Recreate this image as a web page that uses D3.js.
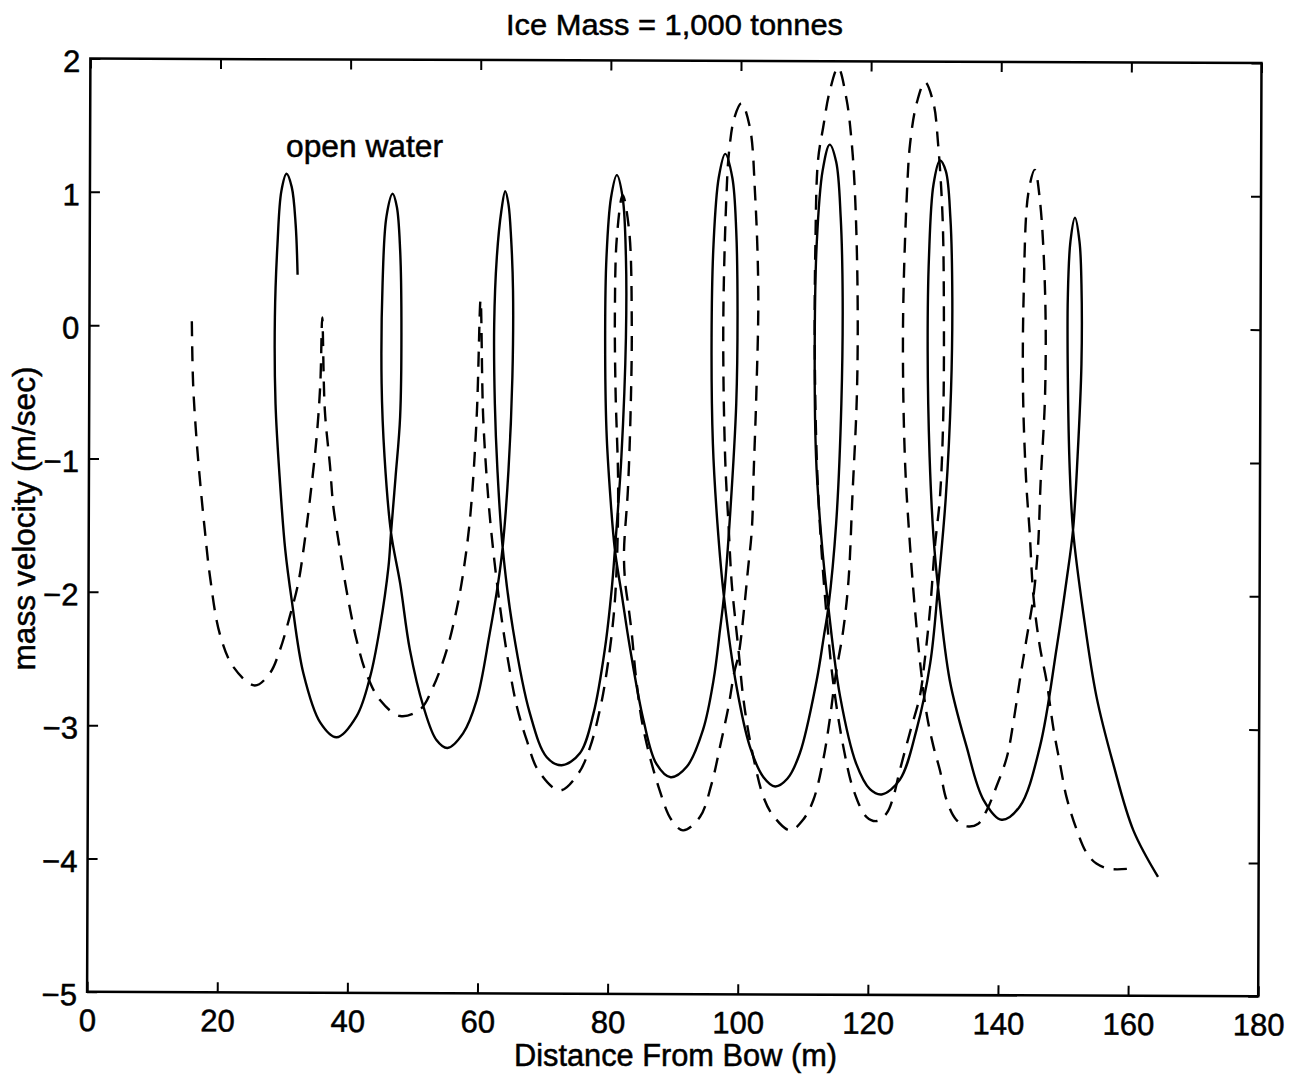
<!DOCTYPE html>
<html>
<head>
<meta charset="utf-8">
<script src="https://cdn.jsdelivr.net/npm/d3@7"></script>
<style>
  body { margin: 0; background: #fff; }
  text { font-family: "Liberation Sans", Arial, Helvetica, sans-serif; fill: #000; stroke: #000; stroke-width: 0.5px; }
</style>
</head>
<body>
<svg id="chart" width="1299" height="1076"></svg>
<script>
const xTicks = [0, 20, 40, 60, 80, 100, 120, 140, 160, 180];
const yTicks = [-5, -4, -3, -2, -1, 0, 1, 2];

// solid trace (the "open water" run): [distance m, velocity m/s]
const openWater = [
  [32.3,0.37],[32.0,0.75],[31.4,1.03],[30.6,1.13],[29.8,1.0],[29.2,0.6],[28.8,0.05],[28.9,-0.6],[29.6,-1.2],[30.4,-1.7],
  [31.4,-2.08],[33.2,-2.63],[35.8,-3.0],[38.3,-3.11],[41.4,-2.95],[43.5,-2.65],[45.0,-2.28],[46.3,-1.83],[46.7,-1.57],
  [47.4,-1.15],[48.1,-0.70],[48.3,0.05],[48.1,0.56],[47.6,0.88],[46.95,0.98],[46.0,0.81],[45.4,0.31],[45.25,-0.45],[45.7,-1.0],[46.7,-1.57],
  [48.1,-1.95],[49.6,-2.45],[51.7,-2.88],[53.7,-3.13],[55.4,-3.19],[57.8,-3.08],[59.9,-2.83],[61.9,-2.33],[63.2,-1.95],[63.9,-1.68],
  [64.8,-1.1],[65.4,-0.4],[65.5,0.25],[65.2,0.65],[64.8,0.9],[64.3,1.0],[63.7,0.85],[63.0,0.5],[62.6,0.0],[62.7,-0.6],[63.1,-1.1],[63.9,-1.68],
  [65.5,-2.3],[68.1,-2.93],[70.7,-3.26],[73.0,-3.32],[75.8,-3.23],[77.9,-2.93],[79.7,-2.43],[80.7,-2.0],[81.2,-1.7],
  [82.2,-1.0],[82.9,-0.1],[82.9,0.5],[82.4,0.95],[81.5,1.12],[80.6,0.95],[79.9,0.5],[79.7,-0.05],[79.9,-0.8],[80.5,-1.3],[81.2,-1.7],
  [82.3,-2.05],[83.5,-2.43],[85.6,-2.98],[87.6,-3.31],[89.8,-3.41],[92.3,-3.33],[94.8,-3.05],[96.4,-2.68],[97.4,-2.3],[98.0,-2.05],
  [99.0,-1.4],[99.9,-0.6],[100.1,0.1],[99.9,0.7],[99.3,1.1],[98.2,1.28],[97.2,1.1],[96.4,0.6],[96.1,-0.1],[96.3,-0.9],[97.0,-1.5],[98.0,-2.05],
  [99.95,-2.73],[102.0,-3.18],[104.1,-3.41],[105.9,-3.48],[107.8,-3.42],[109.7,-3.23],[112.3,-2.68],[113.4,-2.35],[114.1,-2.13],
  [115.3,-1.5],[116.1,-0.6],[116.3,0.2],[116.0,0.8],[115.3,1.22],[114.3,1.35],[113.2,1.15],[112.3,0.6],[112.0,-0.1],[112.2,-1.0],[113.0,-1.6],[114.1,-2.13],
  [115.9,-2.8],[118.4,-3.31],[120.5,-3.5],[122.3,-3.54],[125.1,-3.43],[127.7,-3.05],[129.8,-2.55],[131.0,-1.98],
  [132.2,-1.3],[133.0,-0.5],[133.2,0.2],[132.9,0.8],[132.2,1.15],[131.3,1.23],[130.3,1.05],[129.6,0.5],[129.4,-0.2],[129.7,-1.0],[130.3,-1.6],[131.0,-1.98],
  [132.8,-2.68],[135.4,-3.18],[138.0,-3.58],[140.8,-3.73],[143.6,-3.63],[146.7,-3.18],[149.3,-2.43],[150.8,-1.93],[151.8,-1.55],
  [152.5,-1.0],[153.1,-0.3],[153.1,0.3],[152.8,0.62],[152.1,0.80],[151.4,0.62],[151.0,0.2],[151.0,-0.4],[151.3,-1.1],[151.8,-1.55],
  [153.4,-2.18],[155.4,-2.8],[158.0,-3.31],[161.1,-3.81],[164.9,-4.16]
];

// dashed trace
const dashedRun = [
  [16.0,0.02],[16.2,-0.45],[16.7,-0.85],[17.3,-1.2],[18.0,-1.55],[18.8,-1.9],[20.3,-2.33],[22.4,-2.58],[25.7,-2.72],[28.0,-2.63],
  [29.6,-2.45],[31.1,-2.2],[32.4,-1.95],[33.4,-1.63],[34.2,-1.32],[35.2,-0.87],[35.8,-0.45],[36.1,0.05],
  [36.5,-0.65],[37.3,-1.07],[37.8,-1.37],[38.6,-1.63],[39.4,-1.88],[40.4,-2.15],[41.4,-2.38],[42.9,-2.63],[45.0,-2.83],[48.1,-2.95],
  [51.2,-2.9],[53.2,-2.73],[55.3,-2.45],[56.8,-2.15],[57.8,-1.88],[58.9,-1.45],[59.9,-0.70],[60.5,0.18],
  [60.9,-0.70],[61.7,-1.32],[62.4,-1.68],[63.5,-2.13],[64.8,-2.55],[66.1,-2.88],[67.6,-3.13],[69.4,-3.36],[72.7,-3.51],[75.6,-3.38],
  [77.4,-3.18],[78.9,-2.90],[79.9,-2.63],[81.0,-2.2],[81.5,-1.8],[81.7,-1.2],[81.3,-0.5],[81.2,0.1],[81.5,0.65],[82.4,0.97],
  [83.4,0.7],[83.8,0.0],[83.6,-0.7],[83.2,-1.25],[82.6,-1.72],[82.8,-1.95],[83.3,-2.13],[83.8,-2.33],[84.5,-2.68],[85.6,-3.05],
  [88.1,-3.51],[89.9,-3.73],[91.7,-3.81],[94.3,-3.71],[96.1,-3.46],[97.4,-3.18],[98.7,-2.88],[99.6,-2.62],[100.3,-2.48],[101.2,-2.1],
  [101.7,-1.85],[102.3,-1.55],[102.6,-1.1],[103.0,-0.52],[103.3,0.23],[102.8,0.98],[102.0,1.48],[100.7,1.66],[99.6,1.55],[98.8,1.3],
  [98.4,0.98],[97.9,-0.02],[98.2,-1.02],[98.7,-1.5],[99.2,-1.95],[99.7,-2.2],[100.3,-2.48],[100.9,-2.78],[101.6,-3.02],[102.5,-3.25],
  [104.1,-3.56],[105.6,-3.7],[108.2,-3.81],[110.2,-3.73],[111.8,-3.58],[113.3,-3.28],[114.3,-2.98],[115.2,-2.65],[116.4,-2.30],[117.2,-1.93],
  [117.8,-1.3],[118.5,-0.52],[118.6,0.23],[118.2,0.98],[117.7,1.36],[116.9,1.69],[115.6,1.93],[114.3,1.75],[113.3,1.48],[112.5,1.23],
  [112.1,0.6],[112.0,-0.2],[112.3,-1.0],[112.9,-1.6],[113.8,-2.18],[114.8,-2.68],[116.4,-3.18],[118.0,-3.51],[120.0,-3.71],[121.6,-3.74],
  [123.1,-3.68],[124.1,-3.56],[125.1,-3.36],[126.8,-3.05],[128.2,-2.80],[128.9,-2.55],[129.8,-2.13],[130.5,-1.68],[131.3,-1.3],[131.8,-0.7],
  [131.9,0.1],[131.7,0.8],[131.0,1.36],[130.3,1.66],[129.0,1.82],[127.7,1.66],[126.7,1.36],[126.2,0.98],[125.6,-0.02],[125.9,-1.02],
  [126.7,-1.68],[127.5,-2.18],[128.4,-2.62],[129.3,-2.95],[130.3,-3.18],[131.3,-3.36],[132.3,-3.58],[133.8,-3.73],[135.5,-3.78],[137.2,-3.76],
  [138.5,-3.66],[140.0,-3.48],[141.6,-3.26],[142.6,-3.0],[143.6,-2.68],[144.6,-2.38],[145.7,-2.05],[146.4,-1.68],[146.8,-1.2],[147.5,-0.52],
  [147.5,0.23],[146.7,0.93],[145.9,1.16],[144.9,0.98],[144.2,0.23],[144.1,-0.52],[144.6,-1.2],[145.1,-1.55],[145.7,-2.05],[146.7,-2.43],
  [147.7,-2.68],[148.8,-3.05],[149.8,-3.31],[150.8,-3.56],[152.4,-3.81],[153.9,-3.98],[155.4,-4.06],[157.5,-4.1],[160.1,-4.1]
];

const svg = d3.select('#chart');

const x = d3.scaleLinear().domain([0, 180]).range([88, 1256]);
const y = d3.scaleLinear().domain([-5, 2]).range([988.5, 58.2]);
const fmt = d3.format('d');

// the scanned frame is tilted a touch, so the box/ticks get a small skew
const frame = svg.append('g')
  .attr('transform', 'matrix(1.00265,0.003853,-0.003547,1.00322,2.373,-0.226)');

function styleAxis(g) {
  g.select('.domain').remove();
  g.selectAll('.tick line').attr('stroke', '#000').attr('stroke-width', 2);
  g.selectAll('.tick text').style('font-size', '31px').attr('fill', '#000');
}

frame.append('g')
  .attr('transform', `translate(0,${y(-5)})`)
  .call(d3.axisBottom(x).tickValues(xTicks).tickFormat(fmt).tickSizeInner(-10).tickSizeOuter(0).tickPadding(17))
  .call(styleAxis);

frame.append('g')
  .attr('transform', `translate(0,${y(2)})`)
  .call(d3.axisTop(x).tickValues(xTicks).tickSizeInner(-10).tickSizeOuter(0).tickFormat(''))
  .call(styleAxis);

frame.append('g')
  .attr('transform', `translate(${x(0)},0)`)
  .call(d3.axisLeft(y).tickValues(yTicks).tickFormat(fmt).tickSizeInner(-10).tickSizeOuter(0).tickPadding(10))
  .call(styleAxis)
  .selectAll('.tick text').attr('dy', '0.42em');

frame.append('g')
  .attr('transform', `translate(${x(180)},0)`)
  .call(d3.axisRight(y).tickValues(yTicks).tickSizeInner(-10).tickSizeOuter(0).tickFormat(''))
  .call(styleAxis);

frame.append('rect')
  .attr('x', x(0)).attr('y', y(2))
  .attr('width', x(180) - x(0)).attr('height', y(-5) - y(2))
  .attr('fill', 'none').attr('stroke', '#000').attr('stroke-width', 2.5);

const line = d3.line()
  .x(d => x(d[0]))
  .y(d => y(d[1]))
  .curve(d3.curveCatmullRom.alpha(0.5));

svg.append('path')
  .datum(dashedRun)
  .attr('d', line)
  .attr('fill', 'none')
  .attr('stroke', '#000')
  .attr('stroke-width', 2.4)
  .attr('stroke-dasharray', '15,10');

svg.append('path')
  .datum(openWater)
  .attr('d', line)
  .attr('fill', 'none')
  .attr('stroke', '#000')
  .attr('stroke-width', 2.4);

// labels
svg.append('text')
  .attr('x', 674.5).attr('y', 35)
  .attr('text-anchor', 'middle')
  .attr('textLength', 337).attr('lengthAdjust', 'spacingAndGlyphs')
  .style('font-size', '30px')
  .text('Ice Mass = 1,000 tonnes');

svg.append('text')
  .attr('x', 675.5).attr('y', 1066)
  .attr('text-anchor', 'middle')
  .attr('textLength', 323).attr('lengthAdjust', 'spacingAndGlyphs')
  .style('font-size', '31px')
  .text('Distance From Bow (m)');

svg.append('text')
  .attr('transform', 'translate(35,518.5) rotate(-90)')
  .attr('text-anchor', 'middle')
  .attr('textLength', 304).attr('lengthAdjust', 'spacingAndGlyphs')
  .style('font-size', '31px')
  .text('mass velocity (m/sec)');

svg.append('text')
  .attr('x', 286).attr('y', 157)
  .attr('textLength', 157).attr('lengthAdjust', 'spacingAndGlyphs')
  .style('font-size', '31px')
  .text('open water');
</script>
</body>
</html>
